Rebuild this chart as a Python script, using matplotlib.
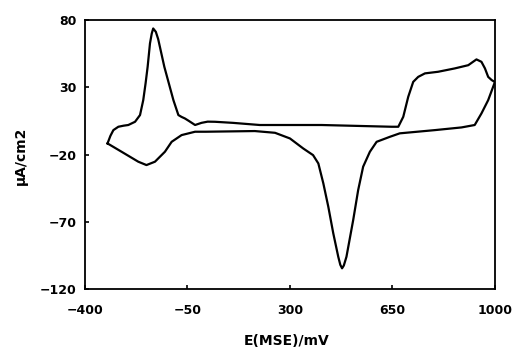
import matplotlib
matplotlib.use("Agg")
import matplotlib.pyplot as plt

# forward (anodic) scan, from the lower vertex up to 1000 mV
fwd_e = [-323, -313, -303, -286, -268, -252, -229, -212, -201, -193, -186, -178, -172, -167,
         -158, -150, -129, -98, -81, -70, -59, -45, -24, -2, 19, 44, 105, 197, 408, 647, 670,
         687, 704, 721, 738, 761, 806, 863, 909, 937, 954, 966, 977, 989, 1000]
fwd_i = [-11.7, -6.0, -1.8, 0.7, 1.5, 2.0, 4.4, 9.4, 20.5, 33, 45.3, 62.7, 70, 73.8,
         71.3, 65.9, 45.3, 20.5, 9.4, 8.0, 6.9, 5.0, 2.0, 3.6, 4.5, 4.4, 3.6, 2.0, 2.0, 0.7, 0.7,
         8.1, 23, 34.1, 37.8, 40.4, 41.6, 44.1, 46.5, 50.8, 49, 44.1, 37.8, 35.4, 34]

# reverse (cathodic) scan, back from 1000 mV to the lower vertex
rev_e = [1000, 977, 954, 931, 886, 795, 675, 641, 596, 573, 550, 533, 516, 493, 484, 478,
         472, 465, 448, 431, 414, 397, 379, 345, 300, 249, 180, 13, -24, -70, -104, -127,
         -161, -190, -218, -275, -323]
rev_i = [34, 20.5, 10.6, 2.0, 0.2, -1.8, -4.2, -6.8, -10.5, -17.9, -29, -46.4, -68.7, -96,
         -102.5, -104.6, -102, -96, -78.6, -58.8, -41.4, -26.6, -20.4, -15.4, -8, -3.8,
         -2.5, -3.0, -3.0, -5.5, -10.5, -17.9, -25.3, -27.8, -25.3, -17.9, -11.7]

xticks = [-400, -50, 300, 650, 1000]
yticks = [-120, -70, -20, 30, 80]

fig = plt.figure(figsize=(5.15, 3.51), dpi=100)
ax = fig.add_axes([0.165, 0.1766, 0.796, 0.766])

ax.plot(fwd_e + rev_e, fwd_i + rev_i, color="black", linewidth=1.6,
        solid_joinstyle="round")

ax.set_xlim(-400, 1000)
ax.set_ylim(-120, 80)
ax.set_xticks(xticks)
ax.set_yticks(yticks)
ax.tick_params(direction="in", length=3, width=1.2, labelsize=9)
ax.tick_params(axis="x", pad=11)
ax.tick_params(axis="y", pad=6)
for lab in ax.get_xticklabels() + ax.get_yticklabels():
    lab.set_fontweight("bold")
for sp in ax.spines.values():
    sp.set_linewidth(1.3)

ax.set_xlabel("E(MSE)/mV", fontsize=10, fontweight="bold", va="center")
ax.xaxis.set_label_coords(0.493, -0.193)
ax.set_ylabel("µA/cm2", fontsize=10, fontweight="bold", va="center")
ax.yaxis.set_label_coords(-0.156, 0.494)

fig.savefig("out.png", dpi=100)
